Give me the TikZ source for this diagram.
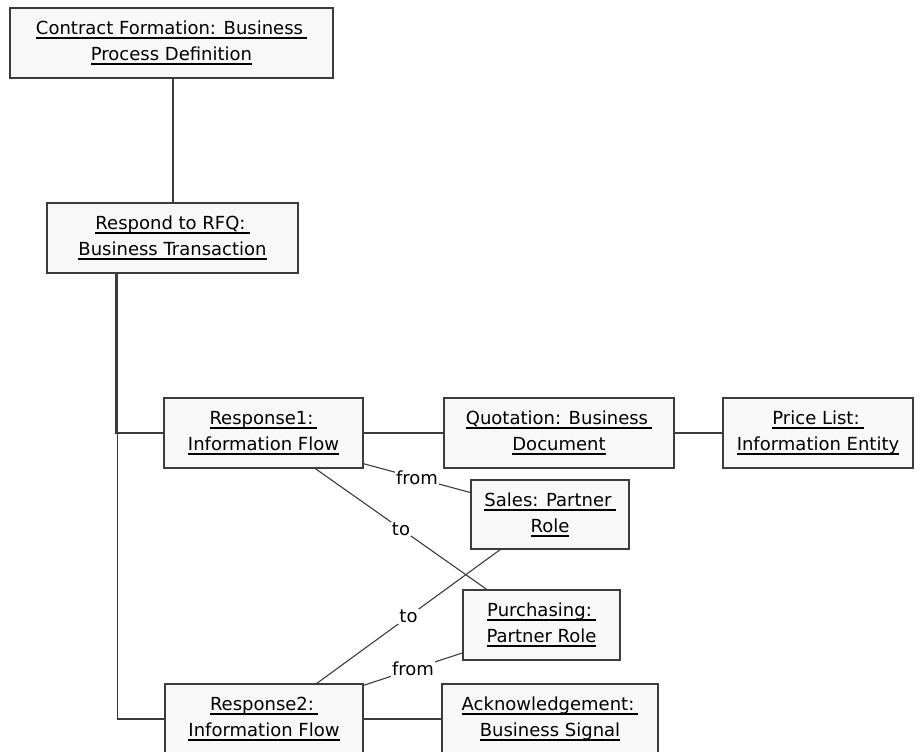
\documentclass[tikz,border=0pt]{standalone}
\usepackage{fontspec}
\setmainfont{DejaVu Sans}
\usetikzlibrary{calc}

\definecolor{edge}{RGB}{60,60,60}
\definecolor{boxfill}{RGB}{248,248,248}

% underlined object name, rule at a fixed depth below the baseline
\newcommand{\ulin}[1]{\setbox0\hbox{#1}\rlap{\rule[-4.6pt]{\wd0}{1.8pt}}\box0}

\begin{document}
\begin{tikzpicture}[x=1pt,y=-1pt,
  objbox/.style={draw=edge, line width=1.5pt, fill=boxfill, inner sep=0pt,
    align=center, font=\fontsize{18}{26}\selectfont, text=black},
  link/.style={draw=edge, line width=1.3pt},
  rolelink/.style={draw=edge, line width=1.1pt},
  role/.style={fill=white, inner sep=1pt, font=\fontsize{18}{20}\selectfont}]

\fill[white] (0,0) rectangle (922,752);
\useasboundingbox (0,0) rectangle (922,752);
\clip (0,0) rectangle (922,752);

% objects
\node[objbox, minimum width=323pt, minimum height=70pt] (cf) at (171.5,43)
  {\ulin{Contract Formation: Business\hspace{4pt}}\\\ulin{Process Definition}};
\node[objbox, minimum width=251pt, minimum height=70pt] (rfq) at (172.5,238)
  {\ulin{Respond to RFQ:\hspace{4pt}}\\\ulin{Business Transaction}};
\node[objbox, minimum width=199pt, minimum height=70pt] (r1) at (263.5,433)
  {\ulin{Response1:\hspace{4pt}}\\\ulin{Information Flow}};
\node[objbox, minimum width=230pt, minimum height=70pt] (quo) at (559,433)
  {\ulin{Quotation: Business\hspace{4pt}}\\\ulin{Document}};
\node[objbox, minimum width=190pt, minimum height=70pt] (pl) at (818,433)
  {\ulin{Price List:\hspace{4pt}}\\\ulin{Information Entity}};
\node[objbox, minimum width=158pt, minimum height=69pt] (sales) at (550,514.5)
  {\ulin{Sales: Partner\hspace{4pt}}\\\ulin{Role}};
\node[objbox, minimum width=157pt, minimum height=70pt] (purch) at (541.5,625)
  {\ulin{Purchasing:\hspace{4pt}}\\\ulin{Partner Role}};
\node[objbox, minimum width=198pt, minimum height=70pt] (r2) at (264,719)
  {\ulin{Response2:\hspace{4pt}}\\\ulin{Information Flow}};
\node[objbox, minimum width=216pt, minimum height=70pt] (ack) at (550,719)
  {\ulin{Acknowledgement:\hspace{4pt}}\\\ulin{Business Signal}};

% structural links
\draw[link] ([xshift=1.5pt]cf.south) -- ([xshift=0.5pt]rfq.north);
\draw[link] ([xshift=-56.5pt]rfq.south) |- (r1.west);
\draw[link] ([xshift=-55pt]rfq.south) |- (r2.west);
\draw[link] (r1.east) -- (quo.west);
\draw[link] (quo.east) -- (pl.west);
\draw[link] (r2.east) -- (ack.west);

% partner role links
\draw[rolelink] ([yshift=5pt]r1.south east) -- node[role]{from} ([yshift=22pt]sales.west);
\draw[rolelink] ([xshift=52pt]r1.south) -- node[role]{to} ([xshift=-55pt]purch.north);
\draw[rolelink] ([xshift=53pt]r2.north) -- node[role]{to} ([xshift=-50pt]sales.south);
\draw[rolelink] ([yshift=-2pt]r2.north east) -- node[role]{from} ([yshift=-28pt]purch.west);
\end{tikzpicture}
\end{document}
